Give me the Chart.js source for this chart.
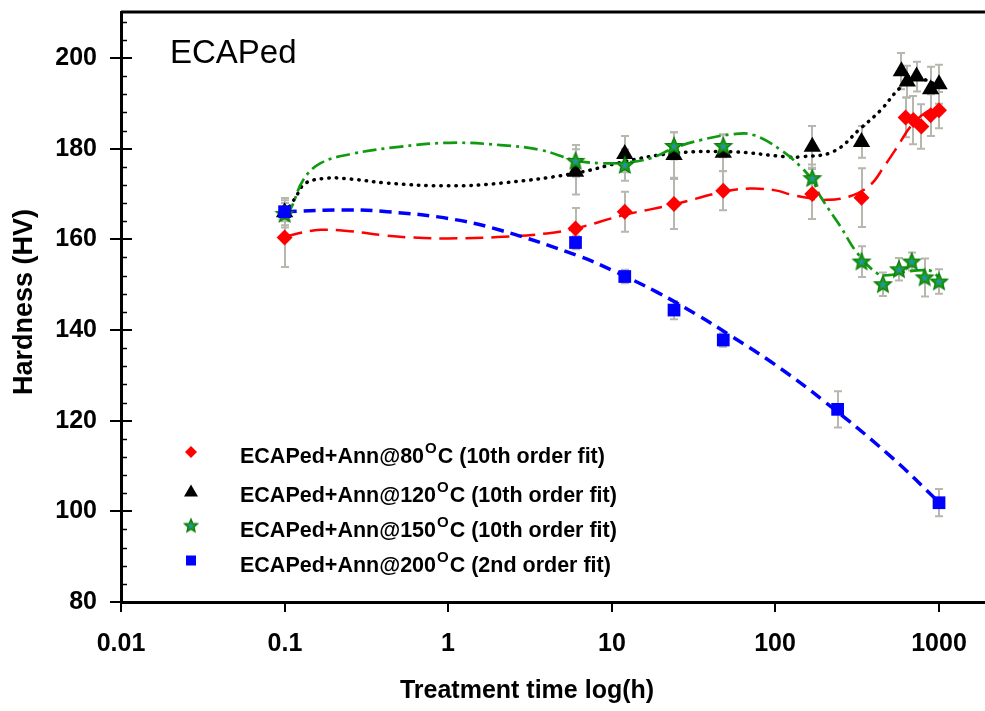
<!DOCTYPE html>
<html>
<head>
<meta charset="utf-8">
<script src="https://cdn.jsdelivr.net/npm/chart.js@4.4.1/dist/chart.umd.min.js"></script>
<style>
  body { margin: 0; background: #fff; overflow: hidden; }
  #wrap { width: 985px; height: 711px; }
  canvas { display: block; }
</style>
</head>
<body>
<div id="wrap"><canvas id="hardness" width="985" height="711"></canvas></div>
<script>
// measured hardness, annealing at 80 / 120 / 150 / 200 C
const hours80 = [0.1, 6, 12, 24, 48, 168, 336, 625, 697, 780, 889, 1000];
const hv80    = [160.4, 162.4, 166.1, 167.8, 170.7, 170.0, 169.2, 186.9, 186.3, 184.9, 187.4, 188.5];
const err80   = [6.5, 4.5, 4.4, 5.5, 4.3, 5.5, 6.5, 4.4, 5.3, 4.9, 4.6, 4.0];

const hours120 = [0.1, 6, 12, 24, 48, 168, 336, 589, 640, 729, 889, 1000];
const hv120    = [166.0, 174.9, 178.8, 178.6, 179.1, 180.4, 181.5, 197.1, 194.8, 195.9, 193.1, 194.2];
const err120   = [2.0, 5.0, 4.0, 5.0, 4.0, 4.6, 3.5, 4.0, 3.5, 3.3, 5.0, 4.3];

const hours150 = [0.1, 6, 12, 24, 48, 168, 336, 454, 569, 681, 817, 1000];
const hv150    = [165.6, 177.3, 176.4, 180.6, 180.6, 173.5, 155.1, 150.1, 153.4, 155.1, 151.6, 150.7];
const err150   = [3.0, 3.5, 3.5, 3.0, 2.5, 3.0, 3.4, 2.6, 2.5, 2.0, 4.2, 2.7];

const hours200 = [0.1, 6, 12, 24, 48, 240, 1000];
const hv200    = [166.1, 159.3, 151.8, 144.4, 137.8, 122.5, 101.9];
const err200   = [3.0, 1.5, 1.5, 2.0, 1.5, 4.0, 3.0];

// fitted curves
const fitHours80 = [0.1, 0.12, 0.166, 0.25, 0.4, 0.6, 1, 2, 4, 6, 12, 24, 48, 70, 100, 124, 160, 200, 280, 380, 460, 556, 670, 847, 1000];
const fitHv80    = [160.5, 161.3, 162.1, 161.8, 160.9, 160.4, 160.2, 160.5, 161.3, 162.4, 165.4, 167.7, 170.5, 171.2, 170.8, 169.9, 169.1, 168.7, 169.4, 172.0, 176.0, 180.4, 184.9, 188.2, 188.8];

const fitHours120 = [0.1, 0.109, 0.12, 0.134, 0.182, 0.253, 0.425, 1, 2.1, 6, 11.8, 24, 55, 117, 143, 227, 332, 440, 582, 736, 927, 1000];
const fitHv120    = [166.0, 167.6, 170.0, 172.4, 173.5, 173.3, 172.4, 171.8, 172.4, 174.6, 177.1, 179.0, 179.3, 178.2, 178.2, 179.4, 184.5, 188.5, 193.5, 195.5, 194.4, 193.8];

const fitHours150 = [0.1, 0.109, 0.13, 0.166, 0.253, 0.5, 1.03, 2.09, 3.67, 6, 8.5, 11.8, 17.3, 23.9, 34.9, 55.5, 73.6, 108, 143, 168, 189, 250, 316, 419, 492, 640, 805, 910, 1000];
const fitHv150    = [165.5, 166.8, 173.1, 176.8, 178.8, 180.4, 181.3, 180.8, 179.7, 177.4, 176.8, 176.9, 177.9, 180.1, 181.9, 183.2, 183.0, 179.7, 176.0, 173.0, 169.4, 162.8, 157.0, 152.5, 152.1, 152.9, 153.2, 152.9, 151.5];

const fitHours200 = [0.1, 0.25, 0.425, 1, 2.09, 6.4, 10.3, 19, 33.4, 53, 100, 200, 500, 1000];
const fitHv200    = [166.1, 166.5, 166.1, 164.6, 162.0, 156.2, 153.0, 148.3, 143.3, 138.8, 132.3, 124.2, 112.3, 102.0];

const xTicks = [0.01, 0.1, 1, 10, 100, 1000];
const xTickLabels = ['0.01', '0.1', '1', '10', '100', '1000'];
const yTicks = [80, 100, 120, 140, 160, 180, 200];
const yMinorStep = 4;

const legendTemps = ['80', '120', '150', '200'];
const legendFits = ['10th order fit', '10th order fit', '10th order fit', '2nd order fit'];

const FONT = "'Liberation Sans', Arial, sans-serif";
Chart.defaults.font.family = FONT;

function makeStar(r) {
  const c = document.createElement('canvas');
  const s = Math.ceil(r * 2 + 4);
  c.width = s; c.height = s;
  const g = c.getContext('2d');
  const starPath = (R, ri) => {
    g.beginPath();
    for (let k = 0; k < 10; k++) {
      const rad = k % 2 ? ri : R;
      const a = -Math.PI / 2 + k * Math.PI / 5;
      g.lineTo(s / 2 + rad * Math.cos(a), s / 2 + 0.5 + rad * Math.sin(a));
    }
    g.closePath();
  };
  starPath(r, r * 0.45);
  g.fillStyle = '#16a016'; g.fill();
  g.lineWidth = 1.2; g.strokeStyle = '#0b7a0b'; g.stroke();
  starPath(r * 0.42, r * 0.2);
  g.fillStyle = '#2a8fb0'; g.fill();
  return c;
}
const starBig = makeStar(9);
const starSmall = makeStar(7);

const pts = (xs, ys) => xs.map((h, i) => ({ x: h, y: ys[i] }));

function fitSet(xs, ys, color, dash, width, cap, order) {
  return {
    data: pts(xs, ys), showLine: true, pointRadius: 0, borderColor: color,
    borderWidth: width, borderDash: dash, borderCapStyle: cap, tension: 0.4,
    order: order
  };
}
function pointSet(xs, ys, errs, style, radius, fill, order) {
  return {
    data: pts(xs, ys), errors: errs, showLine: false, pointStyle: style,
    pointRadius: radius, backgroundColor: fill, borderColor: fill, borderWidth: 0,
    order: order
  };
}

// keep the plot box fixed: no extra room for overhanging tick labels
function noOverhang(s) {
  s.paddingTop = 0; s.paddingBottom = 0; s.paddingLeft = 0; s.paddingRight = 0;
}

const frame = {
  id: 'frame',
  beforeDatasetsDraw(chart) {
    const ctx = chart.ctx, xs = chart.scales.x, ys = chart.scales.y;
    ctx.save();
    ctx.strokeStyle = '#b7b7af';
    ctx.lineWidth = 2;
    chart.data.datasets.forEach(ds => {
      if (!ds.errors) return;
      ds.data.forEach((p, i) => {
        const px = Math.round(xs.getPixelForValue(p.x));
        const top = ys.getPixelForValue(p.y + ds.errors[i]);
        const bot = ys.getPixelForValue(p.y - ds.errors[i]);
        ctx.beginPath();
        ctx.moveTo(px, top); ctx.lineTo(px, bot);
        ctx.moveTo(px - 4, top); ctx.lineTo(px + 4, top);
        ctx.moveTo(px - 4, bot); ctx.lineTo(px + 4, bot);
        ctx.stroke();
      });
    });
    ctx.restore();
  },
  afterDraw(chart) {
    const ctx = chart.ctx, xs = chart.scales.x, ys = chart.scales.y;
    const a = chart.chartArea;
    ctx.save();
    ctx.strokeStyle = '#000';
    // top frame line
    ctx.lineWidth = 3;
    ctx.beginPath(); ctx.moveTo(a.left, a.top); ctx.lineTo(a.right, a.top); ctx.stroke();
    // y ticks: majors cross the axis, minors point inward
    ctx.lineWidth = 2;
    yTicks.forEach(v => {
      const py = Math.round(ys.getPixelForValue(v));
      ctx.beginPath(); ctx.moveTo(a.left - 11, py); ctx.lineTo(a.left + 11, py); ctx.stroke();
    });
    ctx.lineWidth = 1.5;
    for (let v = ys.min; v <= ys.max; v += yMinorStep) {
      if (v % 20 === 0) continue;
      const py = Math.round(ys.getPixelForValue(v)) + 0.5;
      ctx.beginPath(); ctx.moveTo(a.left, py); ctx.lineTo(a.left + 6, py); ctx.stroke();
    }
    // x ticks, downward, with their labels
    ctx.lineWidth = 2;
    ctx.fillStyle = '#000';
    ctx.font = 'bold 25px ' + FONT;
    ctx.textAlign = 'center';
    ctx.textBaseline = 'alphabetic';
    xTicks.forEach((v, i) => {
      const px = Math.round(xs.getPixelForValue(v));
      ctx.beginPath(); ctx.moveTo(px, a.bottom); ctx.lineTo(px, a.bottom + 10); ctx.stroke();
      ctx.fillText(xTickLabels[i], px, 651);
    });

    // axis titles
    ctx.fillText('Treatment time log(h)', 527, 698);
    ctx.save();
    ctx.translate(32, 302);
    ctx.rotate(-Math.PI / 2);
    ctx.font = 'bold 27px ' + FONT;
    ctx.fillText('Hardness (HV)', 0, 0);
    ctx.restore();

    // panel label
    ctx.font = '33px ' + FONT;
    ctx.textAlign = 'left';
    ctx.fillText('ECAPed', 170, 63);

    // legend
    const rows = [463, 501.5, 536.5, 571.5];
    const mx = 191, tx = 240;
    rows.forEach((by, i) => {
      const my = by - 11;
      ctx.beginPath();
      if (i === 0) {
        ctx.fillStyle = '#ff0000';
        ctx.moveTo(mx, my - 6); ctx.lineTo(mx + 6, my); ctx.lineTo(mx, my + 6); ctx.lineTo(mx - 6, my);
        ctx.closePath(); ctx.fill();
      } else if (i === 1) {
        ctx.fillStyle = '#000';
        ctx.moveTo(mx, my - 6); ctx.lineTo(mx + 7, my + 6); ctx.lineTo(mx - 7, my + 6);
        ctx.closePath(); ctx.fill();
      } else if (i === 2) {
        ctx.drawImage(starSmall, mx - starSmall.width / 2, my - starSmall.height / 2);
      } else {
        ctx.fillStyle = '#0000ff';
        ctx.fillRect(mx - 5, my - 5, 10, 10);
      }
      ctx.fillStyle = '#000';
      ctx.font = 'bold 21.5px ' + FONT;
      const head = 'ECAPed+Ann@' + legendTemps[i];
      ctx.fillText(head, tx, by);
      let x = tx + ctx.measureText(head).width + 1;
      ctx.font = 'bold 15px ' + FONT;
      ctx.fillText('O', x, by - 10);
      x += ctx.measureText('O').width + 1;
      ctx.font = 'bold 21.5px ' + FONT;
      ctx.fillText('C (' + legendFits[i] + ')', x, by);
    });
    ctx.restore();
  }
};

const tickFont = { family: FONT, size: 25, weight: 'bold' };

new Chart(document.getElementById('hardness'), {
  type: 'scatter',
  data: {
    datasets: [
      fitSet(fitHours80, fitHv80, '#ff0000', [18, 8], 2.5, 'butt', 13),
      fitSet(fitHours120, fitHv120, '#000000', [0.5, 7], 3.5, 'round', 12),
      fitSet(fitHours150, fitHv150, '#109a10', [14, 5, 3, 5], 2.7, 'butt', 11),
      fitSet(fitHours200, fitHv200, '#0000ff', [12, 7], 3.5, 'butt', 10),
      pointSet(hours80, hv80, err80, 'rectRot', 8, '#ff0000', 3),
      pointSet(hours120, hv120, err120, 'triangle', 10, '#000000', 2),
      pointSet(hours150, hv150, err150, starBig, 9, '#13a013', 1),
      pointSet(hours200, hv200, err200, 'rect', 9, '#0000ff', 0)
    ]
  },
  options: {
    responsive: false,
    animation: false,
    devicePixelRatio: 1,
    // no automatic room for point radii at the edges
    layout: { autoPadding: false, padding: { top: 12, right: 0, left: 0, bottom: 0 } },
    plugins: { legend: { display: false }, tooltip: { enabled: false } },
    scales: {
      x: {
        type: 'logarithmic', min: 0.01, max: 1910,
        grid: { display: false, drawTicks: false },
        border: { display: true, color: '#000', width: 3 },
        afterBuildTicks: s => { s.ticks = xTicks.map(v => ({ value: v })); },
        ticks: { display: false },
        afterFit: s => { s.height = 109; noOverhang(s); }
      },
      y: {
        type: 'linear', min: 80, max: 210.15,
        grid: { display: false, drawTicks: false },
        border: { display: true, color: '#000', width: 3 },
        afterBuildTicks: s => { s.ticks = yTicks.map(v => ({ value: v })); },
        ticks: { font: tickFont, color: '#000', padding: 24 },
        afterFit: s => { s.width = 121; noOverhang(s); }
      }
    }
  },
  plugins: [frame]
});
</script>
</body>
</html>
